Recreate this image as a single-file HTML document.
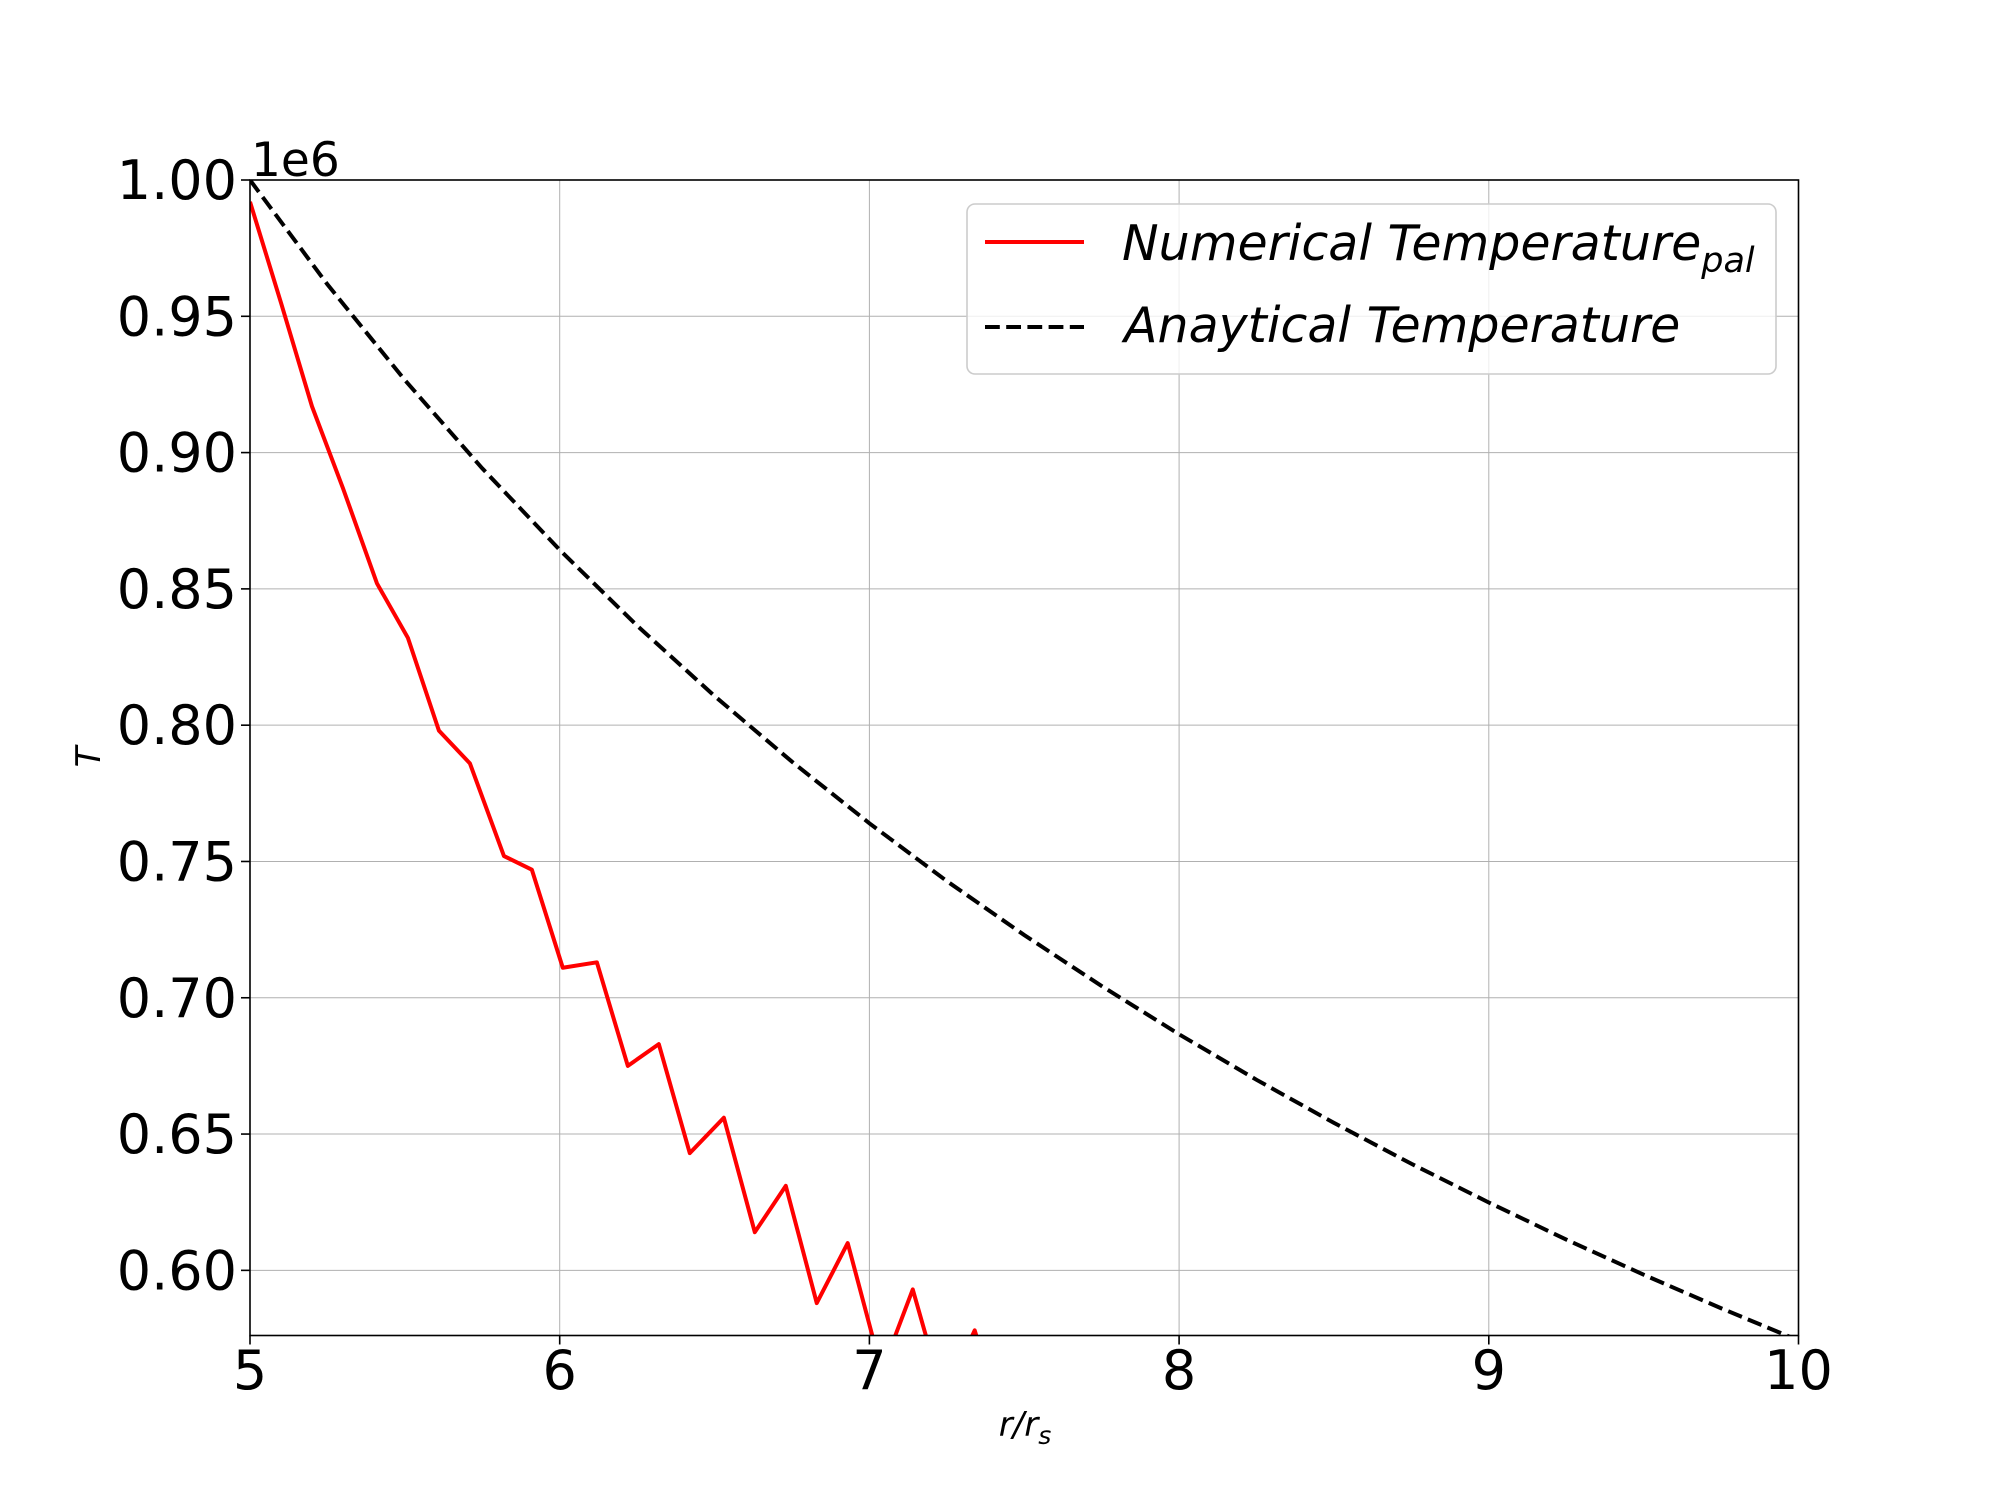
<!DOCTYPE html>
<html><head><meta charset="utf-8"><style>
html,body{margin:0;padding:0;background:#fff}
svg text{font-family:"DejaVu Sans","Liberation Sans",sans-serif;fill:#000}
</style></head><body>
<svg id="chart" width="2000" height="1500" viewBox="0 0 2000 1500" xmlns="http://www.w3.org/2000/svg">
<rect width="2000" height="1500" fill="#fff"/>
<g id="grid"></g>
<defs><clipPath id="clip"><rect x="250" y="180" width="1548.5" height="1155.5"/></clipPath></defs>
<g id="series" clip-path="url(#clip)"></g>
<rect x="250" y="180" width="1548.5" height="1155.5" fill="none" stroke="#000" stroke-width="1.6"/>
<g id="ticks"></g>
<text x="251" y="176" font-size="47">1e6</text>
<text transform="translate(100,757) rotate(-90)" font-size="34" font-style="italic" text-anchor="middle">T</text>
<text x="1025" y="1436" font-size="34" font-style="italic" text-anchor="middle">r/r<tspan font-size="25" dy="8">s</tspan></text>
<g>
<rect x="967" y="204" width="809" height="170" rx="8" fill="#fff" fill-opacity="0.8" stroke="#ccc" stroke-width="1.6"/>
<line x1="985" y1="242" x2="1084" y2="242" stroke="#f00" stroke-width="4"/>
<text x="1122" y="260" font-size="49" font-style="italic">Numerical Temperature<tspan font-size="35" dy="12">pal</tspan></text>
<line x1="985" y1="327" x2="1084" y2="327" stroke="#000" stroke-width="4" stroke-dasharray="14.8,6.4"/>
<text x="1124" y="342" font-size="49" font-style="italic">Anaytical Temperature</text>
</g>
</svg>
<script>
const xTicks=[5,6,7,8,9,10];
const yTicks=[0.60,0.65,0.70,0.75,0.80,0.85,0.90,0.95,1.00];
const numX=[5.0,5.1,5.2,5.3,5.41,5.51,5.61,5.71,5.82,5.91,6.01,6.12,6.22,6.32,6.42,6.53,6.63,6.73,6.83,6.93,7.04,7.14,7.24,7.34,7.44,7.54];
const numY=[0.992,0.955,0.917,0.887,0.852,0.832,0.798,0.786,0.752,0.747,0.711,0.713,0.675,0.683,0.643,0.656,0.614,0.631,0.588,0.610,0.563,0.593,0.553,0.578,0.540,0.560];
const anaX=[5,5.25,5.5,5.75,6,6.25,6.5,6.75,7,7.25,7.5,7.75,8,8.25,8.5,8.75,9,9.25,9.5,9.75,10];
const anaY=[1,0.9617,0.9266,0.8942,0.8643,0.8365,0.8107,0.7866,0.7640,0.7428,0.7230,0.7043,0.6866,0.6699,0.6541,0.6391,0.6249,0.6113,0.5984,0.5861,0.5743];
const X0=250,X1=1798.5,Y0=180,Y1=1335.5,xmin=5,xmax=10,ymin=0.5761,ymax=1.0;
const sx=v=>X0+(v-xmin)/(xmax-xmin)*(X1-X0);
const sy=v=>Y1-(v-ymin)/(ymax-ymin)*(Y1-Y0);
const NS='http://www.w3.org/2000/svg';
function mk(t,a,p){const e=document.createElementNS(NS,t);for(const k in a)e.setAttribute(k,a[k]);p.appendChild(e);return e;}
const grid=document.getElementById('grid'),ticks=document.getElementById('ticks'),series=document.getElementById('series');
xTicks.forEach(v=>{
 const g=mk('line',{x1:sx(v),x2:sx(v),y1:Y0,y2:Y1,stroke:'#b0b0b0','stroke-width':1},grid);
 
 
 const t=mk('line',{x1:sx(v),x2:sx(v),y1:Y1,y2:Y1+9,stroke:'#000','stroke-width':1.6},ticks);
 
 
 const l=mk('text',{x:sx(v),y:1389,'font-size':54,'text-anchor':'middle'},ticks);
 l.textContent=String(v);
 
 
});
yTicks.forEach(v=>{
 const g=mk('line',{x1:X0,x2:X1,y1:sy(v),y2:sy(v),stroke:'#b0b0b0','stroke-width':1},grid);
 
 
 const t=mk('line',{x1:X0-9,x2:X0,y1:sy(v),y2:sy(v),stroke:'#000','stroke-width':1.6},ticks);
 
 
 const l=mk('text',{x:237,y:sy(v)+19,'font-size':54,'text-anchor':'end'},ticks);
 l.textContent=v.toFixed(2);
 
 
});
const pa=mk('polyline',{points:anaX.map((x,i)=>sx(x)+','+sy(anaY[i])).join(' '),fill:'none',stroke:'#000','stroke-width':4,'stroke-dasharray':'14.8,6.4'},series);


const pn=mk('polyline',{points:numX.map((x,i)=>sx(x)+','+sy(numY[i])).join(' '),fill:'none',stroke:'#f00','stroke-width':4,'stroke-linejoin':'round'},series);


</script>
</body></html>
